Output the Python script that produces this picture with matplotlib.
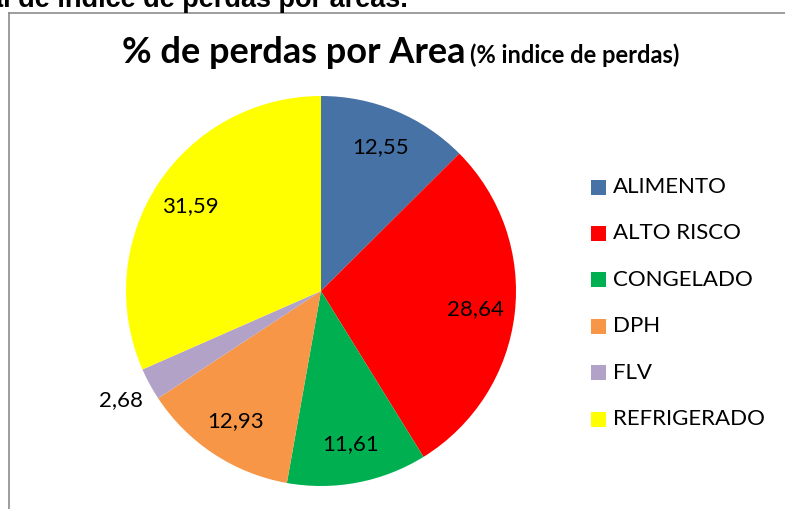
import numpy as np
import matplotlib.pyplot as plt
from matplotlib.patches import Rectangle
from matplotlib.lines import Line2D

# dados
areas = ['ALIMENTO', 'ALTO RISCO', 'CONGELADO', 'DPH', 'FLV', 'REFRIGERADO']
perdas = [12.55, 28.64, 11.61, 12.93, 2.68, 31.59]
cores = ['#4672a6', '#ff0000', '#00b050', '#f79646', '#b3a2c7', '#ffff00']

plt.rcParams['font.family'] = ['Lato', 'DejaVu Sans']

W, H = 785, 509
fig = plt.figure(figsize=(W / 100, H / 100), dpi=100)

def fx(px):
    return px / W

def fy(py):
    return 1 - py / H

# texto cortado no topo
fig.text(fx(408), fy(7), 'Total de índice de perdas por areas.', ha='right', va='baseline',
         fontsize=19.5, fontweight='bold', family='Liberation Sans')

# borda do grafico
fig.add_artist(Line2D([fx(9), fx(9)], [fy(12.5), 0], color='#8c8c8c', lw=1.2))
fig.add_artist(Line2D([fx(9), 1], [fy(12.5), fy(12.5)], color='#8c8c8c', lw=1.2))

# titulo
t1 = fig.text(fx(122), fy(63), '% de perdas por Area', ha='left', va='baseline',
              fontsize=26, fontweight='bold')
fig.canvas.draw()
bb = t1.get_window_extent()
fig.text(bb.x1 / W + fx(5), fy(63), '(% indice de perdas)', ha='left', va='baseline',
         fontsize=17, fontweight='bold')

# pizza
cx, cy, r = 321, 291, 195
ax = fig.add_axes([fx(cx - r), fy(cy + r), 2 * r / W, 2 * r / H])
wedges, _ = ax.pie(perdas, colors=cores, startangle=90, counterclock=False, radius=1)
ax.set_xlim(-1, 1)
ax.set_ylim(-1, 1)
ax.set_aspect('equal')
ax.axis('off')

for w, v in zip(wedges, perdas):
    ang = np.deg2rad((w.theta1 + w.theta2) / 2)
    d = 1.17 if v < 5 else 0.8
    ax.text(d * np.cos(ang), d * np.sin(ang), f'{v:.2f}'.replace('.', ','),
            ha='center', va='center', fontsize=16)

# legenda
y0, dy = 187, 46.4
for i, (nome, c) in enumerate(zip(areas, cores)):
    yy = y0 + i * dy
    fig.add_artist(Rectangle((fx(591), fy(yy + 7.5)), 15 / W, 15 / H, facecolor=c,
                             edgecolor='none', transform=fig.transFigure))
    fig.text(fx(613), fy(yy), nome, ha='left', va='center', fontsize=16)

fig.savefig('out.png', dpi=100)
